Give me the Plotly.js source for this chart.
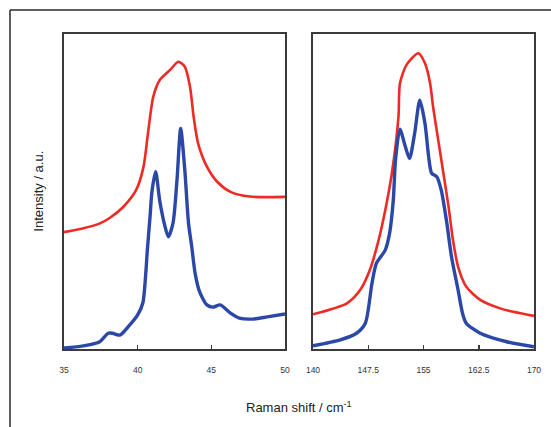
<!DOCTYPE html>
<html>
<head>
<meta charset="utf-8">
<script src="https://cdn.plot.ly/plotly-3.0.1.min.js"></script>
<style>html,body{margin:0;padding:0;background:#fff;}#chart{width:551px;height:427px;}</style>
</head>
<body>
<div id="chart"></div>
<script>
// Left panel (low-frequency region)
const leftRedX = [35, 36.2, 37.4, 38.1, 39.0, 39.9, 40.4, 40.7, 41.06, 41.5, 42.2, 42.76, 43.2, 43.55, 43.8, 44.1, 44.7, 45.4, 46.3, 47.6, 50];
const leftRedY = [37.1, 38.2, 39.8, 41.6, 45.0, 50.5, 57.9, 68.5, 80.1, 85.4, 88.6, 91.2, 89.6, 83.3, 73.7, 65.3, 57.9, 53.1, 49.9, 48.4, 48.3];
const leftBlueX = [35, 36.3, 37.4, 38.0, 38.3, 38.8, 39.35, 40.0, 40.35, 40.55, 40.65, 40.84, 40.97, 41.22, 41.5, 41.85, 42.08, 42.4, 42.67, 42.92, 43.2, 43.45, 43.67, 43.9, 44.2, 44.7, 45.1, 45.6, 46.3, 46.9, 47.8, 48.8, 50];
const leftBlueY = [0.3, 1.0, 2.2, 5.0, 5.0, 4.4, 7.0, 10.8, 14.6, 24, 31, 42, 50, 56.3, 47, 39, 35.6, 40, 53.7, 70.0, 56.8, 40, 32.5, 24, 18.2, 14, 13.3, 14, 11.4, 9.8, 9.5, 10.2, 11.1];
// Right panel (high-frequency region)
const rightRedX = [140, 144.6, 146.4, 147.7, 148.8, 149.8, 150.7, 151.6, 151.8, 152.7, 154.3, 155.2, 155.9, 156.3, 157.0, 157.7, 158.4, 159.0, 159.7, 160.8, 162.7, 165.4, 167.2, 170];
const rightRedY = [11, 14.5, 18.7, 25, 33.6, 44, 55.7, 73.7, 84.3, 90.2, 93.9, 90.7, 84.3, 76.9, 66.3, 55.8, 45.2, 34.6, 26.1, 19.8, 15.6, 12.9, 11.8, 10.5];
const rightBlueX = [140, 143.7, 145.9, 147.1, 148.0, 148.6, 149.8, 150.4, 150.9, 151.2, 151.8, 152.5, 153.1, 153.8, 154.5, 155.2, 155.7, 156.1, 156.8, 157.4, 158.1, 158.8, 159.7, 160.3, 160.8, 162.7, 166.3, 170];
const rightBlueY = [1, 2.9, 5, 8.2, 20.8, 27.2, 31.4, 36.8, 47.3, 60, 69.8, 64.5, 60.5, 68.5, 79, 71.6, 61, 55.8, 54.7, 50.5, 41, 29.3, 18.7, 11.3, 8.2, 5, 2.3, 0.7];
const leftTicks = [35, 40, 45, 50];
const rightTicks = [140, 147.5, 155, 162.5, 170];

const RED = '#ee2a24', BLUE = '#2b48a8';
const traces = [
  {x: leftRedX, y: leftRedY, xaxis: 'x', yaxis: 'y', mode: 'lines', line: {color: RED, width: 2.6, shape: 'spline', smoothing: 0.7}},
  {x: leftBlueX, y: leftBlueY, xaxis: 'x', yaxis: 'y', mode: 'lines', line: {color: BLUE, width: 3.4, shape: 'spline', smoothing: 0.7}},
  {x: rightRedX, y: rightRedY, xaxis: 'x2', yaxis: 'y2', mode: 'lines', line: {color: RED, width: 2.6, shape: 'spline', smoothing: 0.7}},
  {x: rightBlueX, y: rightBlueY, xaxis: 'x2', yaxis: 'y2', mode: 'lines', line: {color: BLUE, width: 3.4, shape: 'spline', smoothing: 0.7}}
];
const axisCommon = {showline: true, mirror: true, linecolor: '#3a3a3a', linewidth: 2, showgrid: false, zeroline: false};
const xCommon = Object.assign({}, axisCommon, {
  ticks: 'inside', ticklen: 4, tickwidth: 1.5, tickcolor: '#3a3a3a',
  tickfont: {family: 'Liberation Sans, Arial, sans-serif', size: 8.5, color: '#333'},
  ticklabelstandoff: 12, tickmode: 'array'
});
const layout = {
  width: 551, height: 427,
  margin: {l: 64, r: 17, t: 34, b: 78},
  paper_bgcolor: '#fff', plot_bgcolor: '#fff',
  showlegend: false,
  xaxis: Object.assign({}, xCommon, {domain: [0, 0.4702], range: [35, 50], tickvals: leftTicks, ticktext: leftTicks.map(String)}),
  xaxis2: Object.assign({}, xCommon, {domain: [0.5298, 1], range: [140, 170], tickvals: rightTicks, ticktext: rightTicks.map(String), anchor: 'y2'}),
  yaxis: Object.assign({}, axisCommon, {range: [0, 100], showticklabels: false, ticks: ''}),
  yaxis2: Object.assign({}, axisCommon, {range: [0, 100], showticklabels: false, ticks: '', anchor: 'x2'}),
  annotations: [
    {text: 'Raman shift / cm<sup>-1</sup>', xref: 'paper', yref: 'paper', x: 0.5, y: -0.185, xanchor: 'center', yanchor: 'middle', showarrow: false,
     font: {family: 'Liberation Sans, Arial, sans-serif', size: 13, color: '#222'}},
    {text: 'Intensity / a.u.', xref: 'paper', yref: 'paper', x: -0.055, y: 0.5, xanchor: 'center', yanchor: 'middle', textangle: -90, showarrow: false,
     font: {family: 'Liberation Sans, Arial, sans-serif', size: 13, color: '#222'}}
  ],
  shapes: [
    {type: 'line', xref: 'paper', yref: 'paper', x0: -0.1149, x1: 1.04, y0: 1.0762, y1: 1.0762, line: {color: '#2a2a2a', width: 1.5}},
    {type: 'line', xref: 'paper', yref: 'paper', x0: -0.1149, x1: -0.1149, y0: 1.0762, y1: -0.26, line: {color: '#2a2a2a', width: 1.5}}
  ]
};
Plotly.newPlot('chart', traces, layout, {staticPlot: true, displayModeBar: false});
</script>
</body>
</html>
